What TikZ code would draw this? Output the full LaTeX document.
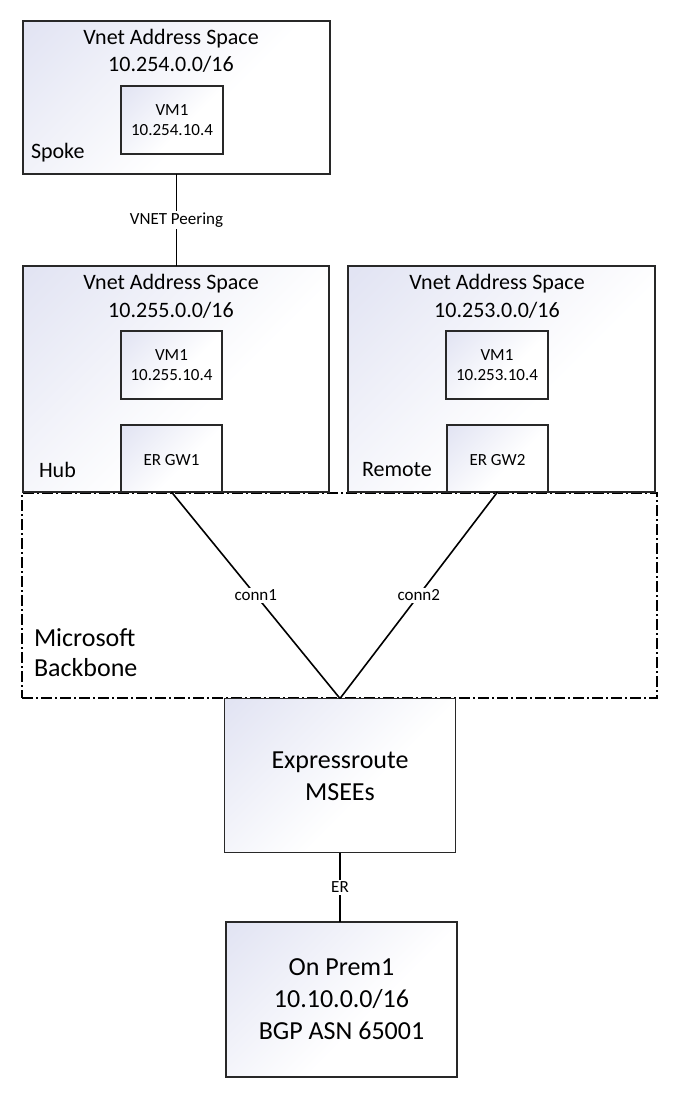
\documentclass[tikz,border=0pt]{standalone}
\usepackage{fontspec}
\setmainfont{Carlito}
\definecolor{lav}{RGB}{226,228,243}
\definecolor{edge}{RGB}{40,40,40}
\pgfdeclarehorizontalshading{diaglav}{100bp}{color(0bp)=(lav); color(16bp)=(lav); color(58bp)=(white); color(100bp)=(white)}
\tikzset{
  box/.style={draw=edge, line width=1.4pt, rectangle, inner sep=0pt, outer sep=0pt,
    shade, shading=diaglav, shading angle=-45},
  txt/.style={inner sep=0pt, outer sep=0pt, align=center},
  big/.style={font=\fontsize{22}{25}\selectfont},
  huge/.style={font=\fontsize{26}{32}\selectfont},
  small/.style={font=\fontsize{17}{20.5}\selectfont},
  link/.style={draw=black, line width=1.6pt},
  lbl/.style={fill=white, inner sep=2pt, font=\fontsize{17}{20}\selectfont},
  bb/.style={draw=black, line width=1.2pt, dash pattern=on 11pt off 3pt on 2pt off 3pt}
}
\begin{document}
\begin{tikzpicture}[x=1pt,y=-1pt]
\useasboundingbox (0,0) rectangle (678,1111);
\fill[white] (0,0) rectangle (678,1111);

% backbone
\node[bb, rectangle, minimum width=635pt, minimum height=205pt, inner sep=0pt] (bb) at (339.5,595.5) {};
\node[txt, anchor=west, font=\fontsize{26}{30}\selectfont] (ms) at (34,638) {Microsoft};
\node[txt, anchor=west, font=\fontsize{26}{30}\selectfont] (bk) at (34,668) {Backbone};

% spoke
\node[box, minimum width=307pt, minimum height=153pt] (spoke) at (176.5,97.5) {};
\node[box, minimum width=102pt, minimum height=68pt] (vms) at (172,120) {};
\node[txt, big] (ts1) at (171,39) {Vnet Address Space};
\node[txt, big] (ts2) at (171,64) {10.254.0.0/16};
\node[txt, small] (vmst) at (172,120) {VM1\\10.254.10.4};
\node[txt, big, anchor=west] (spl) at (31,153) {Spoke};

% hub
\node[box, minimum width=306pt, minimum height=226pt] (hub) at (176,379) {};
\node[box, minimum width=101pt, minimum height=68pt] (vmh) at (171.5,365) {};
\node[box, minimum width=101pt, minimum height=67pt] (gw1) at (171.5,458.5) {};
\node[txt, big] (th1) at (171,284) {Vnet Address Space};
\node[txt, big] (th2) at (171,310) {10.255.0.0/16};
\node[txt, small] (vmht) at (171.5,365) {VM1\\10.255.10.4};
\node[txt, small] (gw1t) at (171.5,460) {ER GW1};
\node[txt, big, anchor=west] (hubl) at (39,470) {Hub};

% remote
\node[box, minimum width=307pt, minimum height=226pt] (rem) at (501.5,379) {};
\node[box, minimum width=102pt, minimum height=68pt] (vmr) at (497,365) {};
\node[box, minimum width=101pt, minimum height=67pt] (gw2) at (497.5,458.5) {};
\node[txt, big] (tr1) at (497,284) {Vnet Address Space};
\node[txt, big] (tr2) at (497,310) {10.253.0.0/16};
\node[txt, small] (vmrt) at (497,365) {VM1\\10.253.10.4};
\node[txt, small] (gw2t) at (497.5,460) {ER GW2};
\node[txt, big, anchor=west] (reml) at (362,470) {Remote};

% MSEE and on-prem
\node[box, minimum width=231pt, minimum height=154pt] (msee) at (340,775.5) {};
\node[txt, huge] (mseet) at (340,776) {Expressroute\\MSEEs};
\node[box, minimum width=231pt, minimum height=155pt] (prem) at (341.5,999.5) {};
\node[txt, huge] (premt) at (341.5,999) {On Prem1\\10.10.0.0/16\\BGP ASN 65001};

% connectors
\draw[link] (spoke.south) -- node[lbl] {VNET Peering} (hub.north -| spoke.south);
\draw[link] (gw1.south) -- node[lbl] {conn1} (msee.north);
\draw[link] (gw2.south) -- node[lbl] {conn2} (msee.north);
\draw[link] (msee.south) -- node[lbl] {ER} (prem.north -| msee.south);
\end{tikzpicture}
\end{document}
